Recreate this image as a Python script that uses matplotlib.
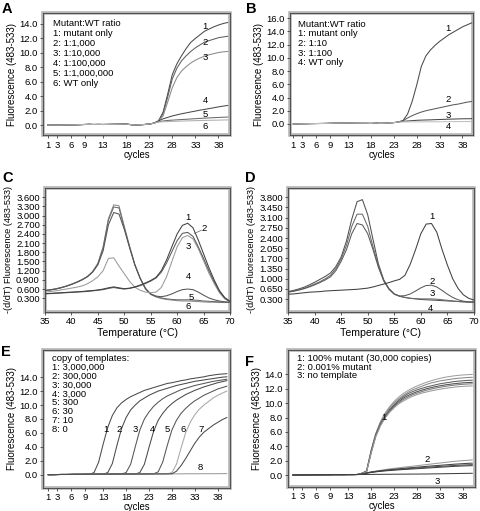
import matplotlib
matplotlib.use("Agg")
import matplotlib.pyplot as plt
from matplotlib.patches import Rectangle

plt.rcParams['font.family'] = ['Liberation Sans', 'DejaVu Sans']

# ---------------- data ----------------
cycles = list(range(1, 41))
cycle_ticks = [1, 3, 6, 9, 13, 18, 23, 28, 33, 38]
temps = list(range(35, 71))

# A: mutant:WT ratio, baseline cycles 1-24, then cycles 25-40
base_a = [0.05, 0.05, 0.03, 0.05, 0.06, 0.07, 0.08, 0.1, 0.12, 0.14, 0.12, 0.13,
          0.12, 0.13, 0.14, 0.15, 0.16, 0.18, 0.1, 0.05, 0.08, 0.12, 0.18, 0.3]
a1 = [0.6, 1.8, 4.3, 7.0, 8.5, 9.6, 10.6, 11.45, 12.0, 12.5, 13.0, 13.3, 13.6, 13.85, 14.05, 14.2]
a2 = [0.6, 1.6, 3.9, 6.4, 7.9, 8.9, 9.6, 10.2, 10.7, 11.1, 11.5, 11.7, 11.9, 12.1, 12.2, 12.3]
a3 = [0.55, 1.3, 3.2, 5.2, 6.6, 7.5, 8.1, 8.6, 9.0, 9.3, 9.55, 9.75, 9.9, 10.05, 10.15, 10.2]
a4 = [0.6, 0.9, 1.1, 1.3, 1.45, 1.6, 1.72, 1.85, 1.97, 2.1, 2.2, 2.32, 2.43, 2.55, 2.65, 2.75]
a5 = [0.5, 0.6, 0.68, 0.72, 0.76, 0.8, 0.84, 0.88, 0.92, 0.96, 1.0, 1.03, 1.06, 1.09, 1.12, 1.15]
a6 = [0.45, 0.5, 0.52, 0.55, 0.57, 0.59, 0.61, 0.63, 0.65, 0.67, 0.68, 0.7, 0.71, 0.72, 0.74, 0.75]
legend_a = ['Mutant:WT ratio', '1: mutant only', '2: 1:1,000', '3: 1:10,000',
            '4: 1:100,000', '5: 1:1,000,000', '6: WT only']

# B
base_b = [0.0, 0.0, 0.02, 0.03, 0.05, 0.06, 0.07, 0.08, 0.1, 0.12, 0.13, 0.14,
          0.15, 0.16, 0.17, 0.18, 0.18, 0.2, 0.15, 0.1, 0.12, 0.15, 0.2, 0.3]
b1 = [0.5, 1.5, 3.4, 5.9, 8.7, 10.3, 11.2, 11.9, 12.5, 13.0, 13.5, 13.9, 14.3, 14.7, 15.0, 15.3]
b2 = [0.5, 0.9, 1.25, 1.55, 1.8, 2.0, 2.15, 2.3, 2.45, 2.6, 2.75, 2.9, 3.0, 3.15, 3.3, 3.4]
b3 = [0.4, 0.45, 0.5, 0.55, 0.58, 0.6, 0.62, 0.65, 0.67, 0.7, 0.72, 0.74, 0.76, 0.78, 0.79, 0.8]
b4 = [0.3, 0.3, 0.31, 0.31, 0.32, 0.32, 0.33, 0.33, 0.34, 0.34, 0.35, 0.35, 0.36, 0.36, 0.37, 0.37]
legend_b = ['Mutant:WT ratio', '1: mutant only', '2: 1:10', '3: 1:100', '4: WT only']

# C: melting curves, 35-70 degC
c1 = [0.45, 0.46, 0.47, 0.48, 0.49, 0.5, 0.51, 0.52, 0.54, 0.55, 0.57, 0.6, 0.64, 0.67, 0.64, 0.61,
      0.63, 0.67, 0.73, 0.8, 0.88, 0.98, 1.2, 1.55, 1.98, 2.4, 2.68, 2.75, 2.6, 2.2, 1.75, 1.3,
      0.9, 0.55, 0.32, 0.2]
c2 = [0.44, 0.45, 0.46, 0.47, 0.48, 0.49, 0.5, 0.51, 0.52, 0.54, 0.56, 0.58, 0.62, 0.65, 0.62, 0.6,
      0.62, 0.66, 0.71, 0.78, 0.86, 0.96, 1.15, 1.45, 1.82, 2.18, 2.42, 2.45, 2.32, 1.98, 1.6, 1.2,
      0.84, 0.52, 0.31, 0.19]
c3 = [0.5, 0.52, 0.54, 0.57, 0.6, 0.63, 0.66, 0.7, 0.77, 0.87, 1.0, 1.2, 1.6, 1.62, 1.35, 1.1,
      0.85, 0.66, 0.56, 0.5, 0.48, 0.5, 0.65, 1.0, 1.5, 1.98, 2.28, 2.35, 2.24, 1.92, 1.52, 1.12,
      0.78, 0.48, 0.28, 0.18]
c4 = [0.55, 0.57, 0.6, 0.64, 0.69, 0.75, 0.82, 0.9, 1.0, 1.15, 1.39, 1.85, 2.7, 3.1, 3.05, 2.55,
      1.95, 1.38, 0.95, 0.62, 0.44, 0.37, 0.35, 0.38, 0.44, 0.52, 0.58, 0.6, 0.58, 0.5, 0.4, 0.31,
      0.25, 0.21, 0.18, 0.17]
c5 = [0.55, 0.57, 0.6, 0.64, 0.69, 0.75, 0.82, 0.9, 1.0, 1.16, 1.42, 1.95, 2.85, 3.28, 3.25, 2.6,
      1.98, 1.4, 0.96, 0.62, 0.44, 0.36, 0.31, 0.28, 0.26, 0.25, 0.25, 0.25, 0.24, 0.23, 0.21, 0.2,
      0.19, 0.18, 0.17, 0.17]
c6 = [0.56, 0.58, 0.61, 0.65, 0.7, 0.76, 0.83, 0.91, 1.01, 1.17, 1.44, 1.98, 2.9, 3.35, 3.32, 2.65,
      2.0, 1.4, 0.95, 0.6, 0.42, 0.34, 0.29, 0.26, 0.24, 0.22, 0.21, 0.21, 0.2, 0.19, 0.18, 0.17,
      0.17, 0.16, 0.16, 0.16]
yticks_c = [0.3, 0.6, 0.9, 1.2, 1.5, 1.8, 2.1, 2.4, 2.7, 3.0, 3.3, 3.6]

# D
d1 = [0.47, 0.48, 0.5, 0.52, 0.54, 0.55, 0.56, 0.58, 0.59, 0.6, 0.61, 0.62, 0.63, 0.64, 0.66, 0.68,
      0.72, 0.77, 0.82, 0.87, 0.93, 0.98, 1.12, 1.5, 2.0, 2.55, 2.88, 2.9, 2.6, 2.0, 1.47, 1.0,
      0.67, 0.45, 0.33, 0.27]
d2 = [0.54, 0.57, 0.61, 0.66, 0.72, 0.79, 0.87, 0.96, 1.07, 1.28, 1.6, 2.0, 2.55, 2.9, 2.85, 2.55,
      2.0, 1.4, 0.93, 0.64, 0.47, 0.41, 0.42, 0.48, 0.58, 0.69, 0.77, 0.78, 0.72, 0.6, 0.47, 0.36,
      0.28, 0.23, 0.21, 0.2]
d3 = [0.55, 0.58, 0.62, 0.67, 0.74, 0.82, 0.9, 1.0, 1.12, 1.35, 1.68, 2.15, 2.8, 3.22, 3.22, 2.8,
      2.1, 1.45, 0.95, 0.65, 0.48, 0.4, 0.36, 0.33, 0.32, 0.31, 0.31, 0.31, 0.3, 0.28, 0.26, 0.24,
      0.22, 0.21, 0.2, 0.2]
d4 = [0.56, 0.6, 0.65, 0.71, 0.79, 0.88, 0.98, 1.08, 1.2, 1.42, 1.75, 2.3, 3.05, 3.65, 3.72, 3.2,
      2.35, 1.52, 0.97, 0.66, 0.48, 0.4, 0.36, 0.33, 0.31, 0.29, 0.28, 0.27, 0.26, 0.25, 0.24, 0.23,
      0.22, 0.21, 0.2, 0.2]
yticks_d = [0.3, 0.65, 1.0, 1.35, 1.7, 2.05, 2.4, 2.75, 3.1, 3.45, 3.8]

# E: dilution series; base_e is also curve 8, each curve leaves it at its start cycle
base_e = [0.0, 0.0, 0.02, 0.03, 0.03, 0.04, 0.05, 0.05, 0.06, 0.07, 0.07, 0.08, 0.08, 0.08,
          0.09, 0.09, 0.1, 0.1, 0.1, 0.1, 0.1, 0.1, 0.11, 0.11, 0.11, 0.11, 0.12, 0.12, 0.12,
          0.12, 0.13, 0.13, 0.13, 0.13, 0.14, 0.14, 0.14, 0.14, 0.15, 0.15]
e1 = [0.3, 1.8, 4.4, 6.8, 8.5, 9.6, 10.3, 10.8, 11.2, 11.5, 11.8, 12.1, 12.3, 12.5, 12.7, 12.9,
      13.1, 13.2, 13.35, 13.5, 13.6, 13.75, 13.85, 13.95, 14.05, 14.2, 14.3, 14.4, 14.45, 14.5]
e2 = [0.3, 1.6, 4.2, 6.6, 8.2, 9.3, 10.0, 10.6, 11.0, 11.4, 11.7, 12.0, 12.2, 12.4, 12.6, 12.8,
      12.95, 13.1, 13.25, 13.4, 13.5, 13.6, 13.7, 13.8, 13.9, 14.0, 14.05]
e3 = [0.3, 1.5, 4.0, 6.4, 8.0, 9.0, 9.8, 10.4, 10.9, 11.3, 11.6, 11.9, 12.2, 12.4, 12.6, 12.8,
      12.95, 13.1, 13.25, 13.4, 13.5, 13.6, 13.7]
e4 = [0.3, 1.5, 3.9, 6.2, 7.8, 8.8, 9.6, 10.2, 10.7, 11.1, 11.5, 11.8, 12.1, 12.35, 12.6, 12.8,
      13.0, 13.2, 13.35, 13.5]
e5 = [0.4, 1.8, 4.2, 6.4, 7.8, 8.8, 9.5, 10.1, 10.6, 11.0, 11.4, 11.7, 12.0, 12.3, 12.5, 12.7]
e6 = [0.3, 1.5, 3.8, 6.0, 7.5, 8.6, 9.4, 10.0, 10.5, 11.0, 11.4, 11.7, 12.0]
e7 = [0.5, 1.3, 2.3, 3.4, 4.5, 5.4, 6.1, 6.6, 7.1, 7.5, 7.9, 8.2]
e_start = [11, 14, 18, 21, 25, 28, 29]
legend_e = ['copy of templates:', '1: 3,000,000', '2: 300,000', '3: 30,000', '4: 3,000',
            '5: 300', '6: 30', '7: 10', '8: 0']

# F: replicates, base_f = no template (cycles 1-40), others leave it at cycle 16
base_f = [0.0, 0.0, 0.01, 0.02, 0.02, 0.03, 0.03, 0.04, 0.04, 0.05, 0.05, 0.05, 0.06, 0.06,
          0.07, 0.07, 0.08, 0.08, 0.09, 0.09, 0.1, 0.1, 0.11, 0.11, 0.12, 0.12, 0.13, 0.13,
          0.14, 0.14, 0.15, 0.16, 0.17, 0.18, 0.19, 0.2, 0.21, 0.22, 0.23, 0.24]
f1a = [0.25, 0.6, 3.5, 5.8, 7.4, 8.6, 9.5, 10.25, 10.85, 11.35, 11.75, 12.1, 12.4, 12.65, 12.9,
       13.1, 13.3, 13.45, 13.6, 13.7, 13.8, 13.87, 13.93, 13.97, 14.0]
f1b = [0.25, 0.55, 3.4, 5.7, 7.3, 8.45, 9.35, 10.05, 10.6, 11.1, 11.5, 11.85, 12.1, 12.35, 12.6,
       12.8, 12.95, 13.1, 13.2, 13.3, 13.4, 13.47, 13.52, 13.57, 13.6]
f1c = [0.25, 0.5, 3.3, 5.6, 7.1, 8.2, 9.1, 9.8, 10.4, 10.9, 11.3, 11.6, 11.85, 12.05, 12.25,
       12.4, 12.55, 12.7, 12.8, 12.9, 13.0, 13.07, 13.12, 13.17, 13.2]
f1d = [0.2, 0.5, 3.2, 5.5, 7.0, 8.1, 8.95, 9.65, 10.2, 10.7, 11.05, 11.35, 11.6, 11.8, 12.0,
       12.15, 12.3, 12.42, 12.53, 12.62, 12.7, 12.77, 12.83, 12.87, 12.9]
f1e = [0.2, 0.45, 3.1, 5.4, 6.9, 8.0, 8.85, 9.5, 10.05, 10.5, 10.85, 11.15, 11.4, 11.6, 11.8,
       11.95, 12.1, 12.22, 12.33, 12.42, 12.5, 12.57, 12.63, 12.67, 12.7]
f1f = [0.2, 0.45, 3.0, 5.3, 6.8, 7.9, 8.7, 9.35, 9.9, 10.3, 10.65, 10.95, 11.2, 11.4, 11.55,
       11.7, 11.83, 11.95, 12.05, 12.14, 12.22, 12.29, 12.34, 12.38, 12.4]
f2a = [0.12, 0.3, 0.45, 0.55, 0.65, 0.75, 0.85, 0.93, 1.0, 1.08, 1.15, 1.22, 1.3, 1.37, 1.45,
       1.52, 1.6, 1.67, 1.75, 1.82, 1.9, 1.95, 2.0, 2.05, 2.1]
f2b = [0.12, 0.28, 0.4, 0.5, 0.58, 0.66, 0.73, 0.8, 0.86, 0.92, 0.98, 1.03, 1.09, 1.14, 1.2,
       1.25, 1.3, 1.35, 1.4, 1.45, 1.5, 1.54, 1.58, 1.62, 1.65]
f2c = [0.12, 0.27, 0.38, 0.47, 0.55, 0.62, 0.68, 0.74, 0.79, 0.84, 0.89, 0.94, 0.99, 1.03, 1.08,
       1.12, 1.16, 1.2, 1.24, 1.28, 1.32, 1.36, 1.39, 1.42, 1.45]
f2d = [0.1, 0.25, 0.36, 0.44, 0.51, 0.57, 0.62, 0.67, 0.72, 0.76, 0.8, 0.84, 0.88, 0.92, 0.96,
       1.0, 1.04, 1.08, 1.12, 1.16, 1.2, 1.23, 1.26, 1.28, 1.3]
legend_f = ['1: 100% mutant (30,000 copies)', '2: 0.001% mutant', '3: no template']

FS = 6.8
LW = 0.75


def frame(ax):
    # light grey band round the plot area, thin dark line on top
    ax.add_patch(Rectangle((0, 0), 1, 1, transform=ax.transAxes, fill=False,
                           edgecolor='#b4b4b4', lw=2.6, clip_on=False, zorder=0))
    for s in ax.spines.values():
        s.set_color('#404040')
        s.set_linewidth(0.6)
        s.set_zorder(5)
    ax.tick_params(labelsize=FS, length=2.2, width=0.6, color='#404040', pad=1.5)


def legend_lines(ax, lines, x0, y0, step):
    for i, t in enumerate(lines):
        ax.annotate(t, xy=(x0, y0), xycoords='axes fraction', xytext=(0, -i * step),
                    textcoords='offset points', fontsize=FS, va='center', ha='left')


def num_labels(ax, pos):
    for t, x, y in pos:
        ax.text(x, y, t, fontsize=FS, ha='center', va='center')


def amp_axes(ax, ylim, yticks, ylab):
    frame(ax)
    ax.set_xticks(cycle_ticks)
    ax.set_yticks(yticks)
    ax.set_yticklabels(['%.1f' % v for v in yticks])
    ax.set_ylim(*ylim)
    ax.set_xlabel('cycles', fontsize=6.9, labelpad=0)
    ax.set_ylabel(ylab, fontsize=7.0, labelpad=2)


fig = plt.figure(figsize=(4.8, 5.11), dpi=100)
W, H = 480.0, 511.0


def add_axes(l, r, t, b):
    return fig.add_axes([l / W, 1 - b / H, (r - l) / W, (b - t) / H])


ylab = 'Fluorescence (483-533)'

# ---- A ----
ax = add_axes(43, 230, 12.7, 135.5)
for tail, col in zip([a1, a2, a3, a4, a5, a6],
                     ['#4a4a4a', '#5e5e5e', '#8a8a8a', '#4a4a4a', '#6a6a6a', '#b0b0b0']):
    ax.plot(cycles, base_a + tail, color=col, lw=LW)
amp_axes(ax, (-1.4, 15.55), [0, 2, 4, 6, 8, 10, 12, 14], ylab)
ax.set_xlim(0, 40.5)
legend_lines(ax, legend_a, 0.053, 0.91, 7.2)
num_labels(ax, [('1', 35.1, 13.6), ('2', 35.1, 11.5), ('3', 35.1, 9.3),
                ('4', 35.1, 3.5), ('5', 35.1, 1.5), ('6', 35.1, -0.15)])

# ---- B ----
ax = add_axes(290, 473, 13, 135.5)
for tail, col in zip([b1, b2, b3, b4], ['#4a4a4a', '#5a5a5a', '#4a4a4a', '#c0c0c0']):
    ax.plot(cycles, base_b + tail, color=col, lw=LW)
amp_axes(ax, (-1.75, 16.8), [0, 2, 4, 6, 8, 10, 12, 14, 16], ylab)
ax.set_xlim(0.3, 40.3)
legend_lines(ax, legend_b, 0.046, 0.91, 7.0)
num_labels(ax, [('1', 34.9, 14.5), ('2', 34.9, 3.7), ('3', 34.9, 1.25), ('4', 34.9, -0.45)])

# ---- C ----
ax = add_axes(45, 230, 187.7, 311.7)
for s, col in zip([c6, c5, c4, c3, c2, c1],
                  ['#8a8a8a', '#6a6a6a', '#555555', '#9a9a9a', '#5a5a5a', '#404040']):
    ax.plot(temps, s, color=col, lw=LW)
frame(ax)
ax.set_xlim(35, 70)
ax.set_ylim(-0.14, 3.91)
ax.set_xticks([35, 40, 45, 50, 55, 60, 65, 70])
ax.set_yticks(yticks_c)
ax.set_yticklabels(['%.3f' % v for v in yticks_c])
ax.set_xlabel('Temperature (\u00b0C)', fontsize=7.6, labelpad=1.5)
ax.set_ylabel('-(d/dT) Fluorescence (483-533)', fontsize=6.6, labelpad=2)
num_labels(ax, [('1', 62.05, 2.95), ('2', 65.2, 2.57), ('3', 62.05, 1.99),
                ('4', 62.05, 1.0), ('5', 62.7, 0.33), ('6', 62.05, 0.02)])
ax.plot([63.3, 64.6], [2.42, 2.52], color='#606060', lw=0.5)

# ---- D ----
ax = add_axes(288, 474, 187.7, 311.7)
for s, col in zip([d4, d3, d2, d1], ['#505050', '#6a6a6a', '#5a5a5a', '#404040']):
    ax.plot(temps, s, color=col, lw=LW)
frame(ax)
ax.set_xlim(35, 70)
ax.set_ylim(-0.13, 4.13)
ax.set_xticks([35, 40, 45, 50, 55, 60, 65, 70])
ax.set_yticks(yticks_d)
ax.set_yticklabels(['%.3f' % v for v in yticks_d])
ax.set_xlabel('Temperature (\u00b0C)', fontsize=7.6, labelpad=1.5)
ax.set_ylabel('-(d/dT) Fluorescence (483-533)', fontsize=6.6, labelpad=2)
num_labels(ax, [('1', 62.15, 3.14), ('2', 62.15, 0.92), ('3', 62.15, 0.5), ('4', 61.8, -0.03)])

# ---- E ----
ax = add_axes(43, 230, 350, 487.7)
ax.plot(cycles, base_e, color='#9a9a9a', lw=LW)
for tail, st, col in zip([e1, e2, e3, e4, e5, e6, e7], e_start,
                         ['#4a4a4a', '#4a4a4a', '#555555', '#4a4a4a', '#555555', '#a8a8a8', '#4a4a4a']):
    ax.plot(cycles, base_e[:st - 1] + tail, color=col, lw=LW)
amp_axes(ax, (-1.87, 17.9), [0, 2, 4, 6, 8, 10, 12, 14], ylab)
ax.set_xlim(-0.15, 40.7)
legend_lines(ax, legend_e, 0.046, 0.94, 6.4)
num_labels(ax, [('1', 13.7, 6.45), ('2', 16.4, 6.45), ('3', 20.05, 6.45), ('4', 23.7, 6.45),
                ('5', 27.0, 6.45), ('6', 30.5, 6.45), ('7', 34.3, 6.45), ('8', 34.3, 0.96)])

# ---- F ----
ax = add_axes(288, 475, 350, 487)
ax.plot(cycles, base_f, color='#404040', lw=LW)
for tail, col in zip([f1a, f1b, f1c, f1d, f1e, f1f, f2a, f2b, f2c, f2d],
                     ['#a0a0a0', '#8a8a8a', '#606060', '#505050', '#7a7a7a', '#9a9a9a',
                      '#9a9a9a', '#404040', '#505050', '#404040']):
    ax.plot(cycles, base_f[:15] + tail, color=col, lw=LW)
amp_axes(ax, (-1.67, 17.4), [0, 2, 4, 6, 8, 10, 12, 14], ylab)
ax.set_xlim(-0.1, 40.6)
legend_lines(ax, legend_f, 0.047, 0.94, 6.35)
num_labels(ax, [('1', 20.8, 7.97), ('2', 30.1, 2.2), ('3', 32.3, -0.93)])

# panel letters
for t, x, y in [('A', 2, 9), ('B', 246, 9), ('C', 2, 178), ('D', 245, 178),
                ('E', 1, 352), ('F', 245, 362)]:
    fig.text(x / W, 1 - y / H, t, fontsize=10.5, fontweight='bold', ha='left', va='center')

fig.savefig('out.png', dpi=100)
